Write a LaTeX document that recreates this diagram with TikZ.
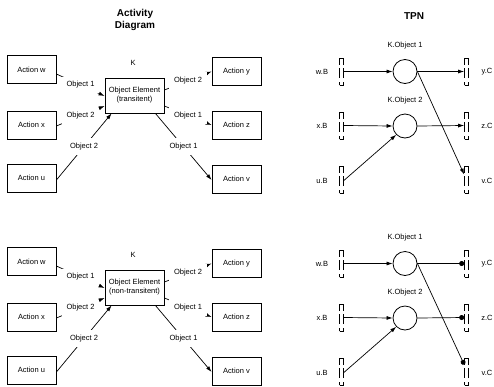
\documentclass[tikz,border=0pt]{standalone}
\usepackage{fontspec}
\setmainfont{Liberation Sans}
\usetikzlibrary{arrows.meta}
\begin{document}
\begin{tikzpicture}[x=1pt,y=-1pt,
  every node/.style={font=\fontsize{7.5}{9}\selectfont},
  actbox/.style={draw, line width=0.8pt, minimum width=49pt, minimum height=28pt, inner sep=1pt},
  elembox/.style={draw, line width=0.8pt, minimum width=59pt, minimum height=35pt, align=center, inner sep=1pt},
  flow/.style={line width=0.7pt, -{Latex[length=6pt,width=4pt]}},
  flowlbl/.style={fill=white, inner sep=5pt},
  % dashed port: bracket corners at top and bottom, a bar in the middle of each side
  port/.style={draw, line width=0.7pt, minimum width=4pt, minimum height=27pt, inner sep=0pt,
    dash pattern=on 7pt off 4pt on 10pt off 3pt on 18pt off 3pt on 10pt off 4pt on 3pt off 0pt},
  place/.style={draw, circle, line width=0.8pt, minimum size=24pt, inner sep=0pt},
  arcin/.style={line width=0.7pt, -{Latex[length=6pt,width=4pt]}},
  arcouta/.style={line width=0.7pt, -{Latex[length=6pt,width=4pt]}},
  arcoutb/.style={line width=0.7pt, -{Circle[length=5pt]}},
  heading/.style={font=\fontsize{10}{12}\selectfont\bfseries, align=center}
]
\useasboundingbox (0,0) rectangle (494,386);

% column headings
\node[heading] (h1) at (135,20) {Activity\\Diagram};
\node[heading] (h2) at (414,16) {TPN};

% two variants: transient (top) and non-transient (bottom)
\foreach \s/\dy/\kind/\vend in {a/0/transitent/5, b/192/non-transitent/7} {
\begin{scope}[yshift=-\dy pt]
  % activity diagram
  \node[actbox] (w\s) at (31.5,69.5) {Action w};
  \node[actbox] (x\s) at (31.5,125) {Action x};
  \node[actbox] (u\s) at (31.5,178) {Action u};
  \node[elembox] (oe\s) at (134.5,95.5) {Object Element\\(\kind)};
  \node (k\s) at (133,63) {K};
  \node[actbox] (y\s) at (236.5,71.5) {Action y};
  \node[actbox] (z\s) at (236.5,125) {Action z};
  \node[actbox] (v\s) at (236.5,179) {Action v};

  \draw[flow] ([yshift=-4.5pt]w\s.east) -- node[flowlbl]{Object 1} ([yshift=-0.5pt]oe\s.west);
  \draw[flow] ([yshift=-1pt]x\s.east) -- node[flowlbl]{Object 2} ([yshift=-10.5pt]oe\s.west);
  \draw[flow] ([yshift=-2pt]u\s.east) -- node[flowlbl]{Object 2} ([xshift=7pt]oe\s.south west);
  \draw[flow] ([yshift=5.5pt]oe\s.east) -- node[flowlbl]{Object 2} (y\s.west);
  \draw[flow] ([yshift=-10.5pt]oe\s.east) -- node[flowlbl]{Object 1} (z\s.west);
  \draw[flow] ([xshift=-9pt]oe\s.south east) -- node[flowlbl]{Object 1} ([yshift=-1pt]v\s.west);

  % timed Petri net
  \node[port] (wB\s) at (341.5,71.5) {};
  \node[port] (xB\s) at (341.5,125.5) {};
  \node[port] (uB\s) at (341.5,179.5) {};
  \node[port] (yC\s) at (466.5,71.5) {};
  \node[port] (zC\s) at (466.5,125.5) {};
  \node[port] (vC\s) at (466.5,179.5) {};
  \node (wBl\s) at (322,72) {w.B};
  \node (xBl\s) at (322,126) {x.B};
  \node (uBl\s) at (322,181) {u.B};
  \node (yCl\s) at (487,72) {y.C};
  \node (zCl\s) at (487,126) {z.C};
  \node (vCl\s) at (487,181) {v.C};

  \node[place] (p1\s) at (405,71.5) {};
  \node[place] (p2\s) at (405,126) {};
  \node (p1l\s) at (405,46) {K.Object 1};
  \node (p2l\s) at (405,101) {K.Object 2};

  \draw[arcin] (wB\s.east) -- (p1\s.west);
  \draw[arcin] (xB\s.east) -- (p2\s.west);
  \draw[arcin] ([yshift=-1pt]uB\s.east) -- (p2\s.south west);
  \draw[arcout\s] (p1\s.east) -- (yC\s.west);
  \draw[arcout\s] (p2\s.east) -- (zC\s.west);
  \draw[arcout\s] (p1\s.east) -- ([yshift=\vend pt]vC\s.west);
\end{scope}
}
\end{tikzpicture}
\end{document}
